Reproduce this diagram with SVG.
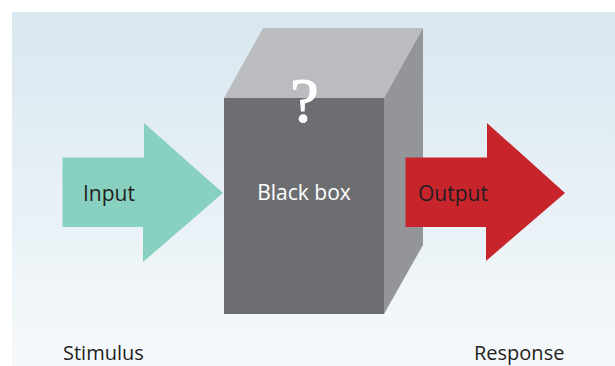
<svg xmlns="http://www.w3.org/2000/svg" width="615" height="366" viewBox="0 0 615 366">
<defs>
<linearGradient id="bg" x1="0" y1="0" x2="0" y2="1">
<stop offset="0" stop-color="#d8e7f0"/>
<stop offset="1" stop-color="#f6f9fb"/>
</linearGradient>
</defs>
<style>
.lbl{font-family:"Open Sans","Liberation Sans",sans-serif;fill:#231f20}
.w{fill:#ffffff}
</style>
<rect x="0" y="0" width="615" height="366" fill="#ffffff"/>
<rect x="12" y="12" width="603" height="354" fill="url(#bg)"/>
<g id="input">
<polygon points="62.5,157.5 144,157.5 144,123 223,193 143,262 143,227 62.5,227" fill="#88d1c0"/>
<text class="lbl" x="83" y="201" font-size="21">Input</text>
</g>
<g id="blackbox">
<polygon points="263,28 423,28 384,98 224,98" fill="#bbbcc0"/>
<polygon points="384,98 423,28 423,245 384,314" fill="#949599"/>
<rect x="224" y="98" width="160" height="216" fill="#6d6e72"/>
<text class="lbl w" x="304" y="200" font-size="21" text-anchor="middle">Black box</text>
<text x="304.5" y="122" font-size="64" text-anchor="middle" font-family="'Liberation Serif',serif" fill="#ffffff" stroke="#ffffff" stroke-width="1.2">?</text>
</g>
<g id="output">
<polygon points="405.5,157.5 487,157.5 487,123 565,193 486,261 486,227 405.5,227" fill="#c8242b"/>
<text class="lbl" x="418" y="201" font-size="21">Output</text>
</g>
<g id="connectors"></g>
<text class="lbl" x="63" y="360" font-size="20">Stimulus</text>
<text class="lbl" x="474" y="360" font-size="20">Response</text>
</svg>
